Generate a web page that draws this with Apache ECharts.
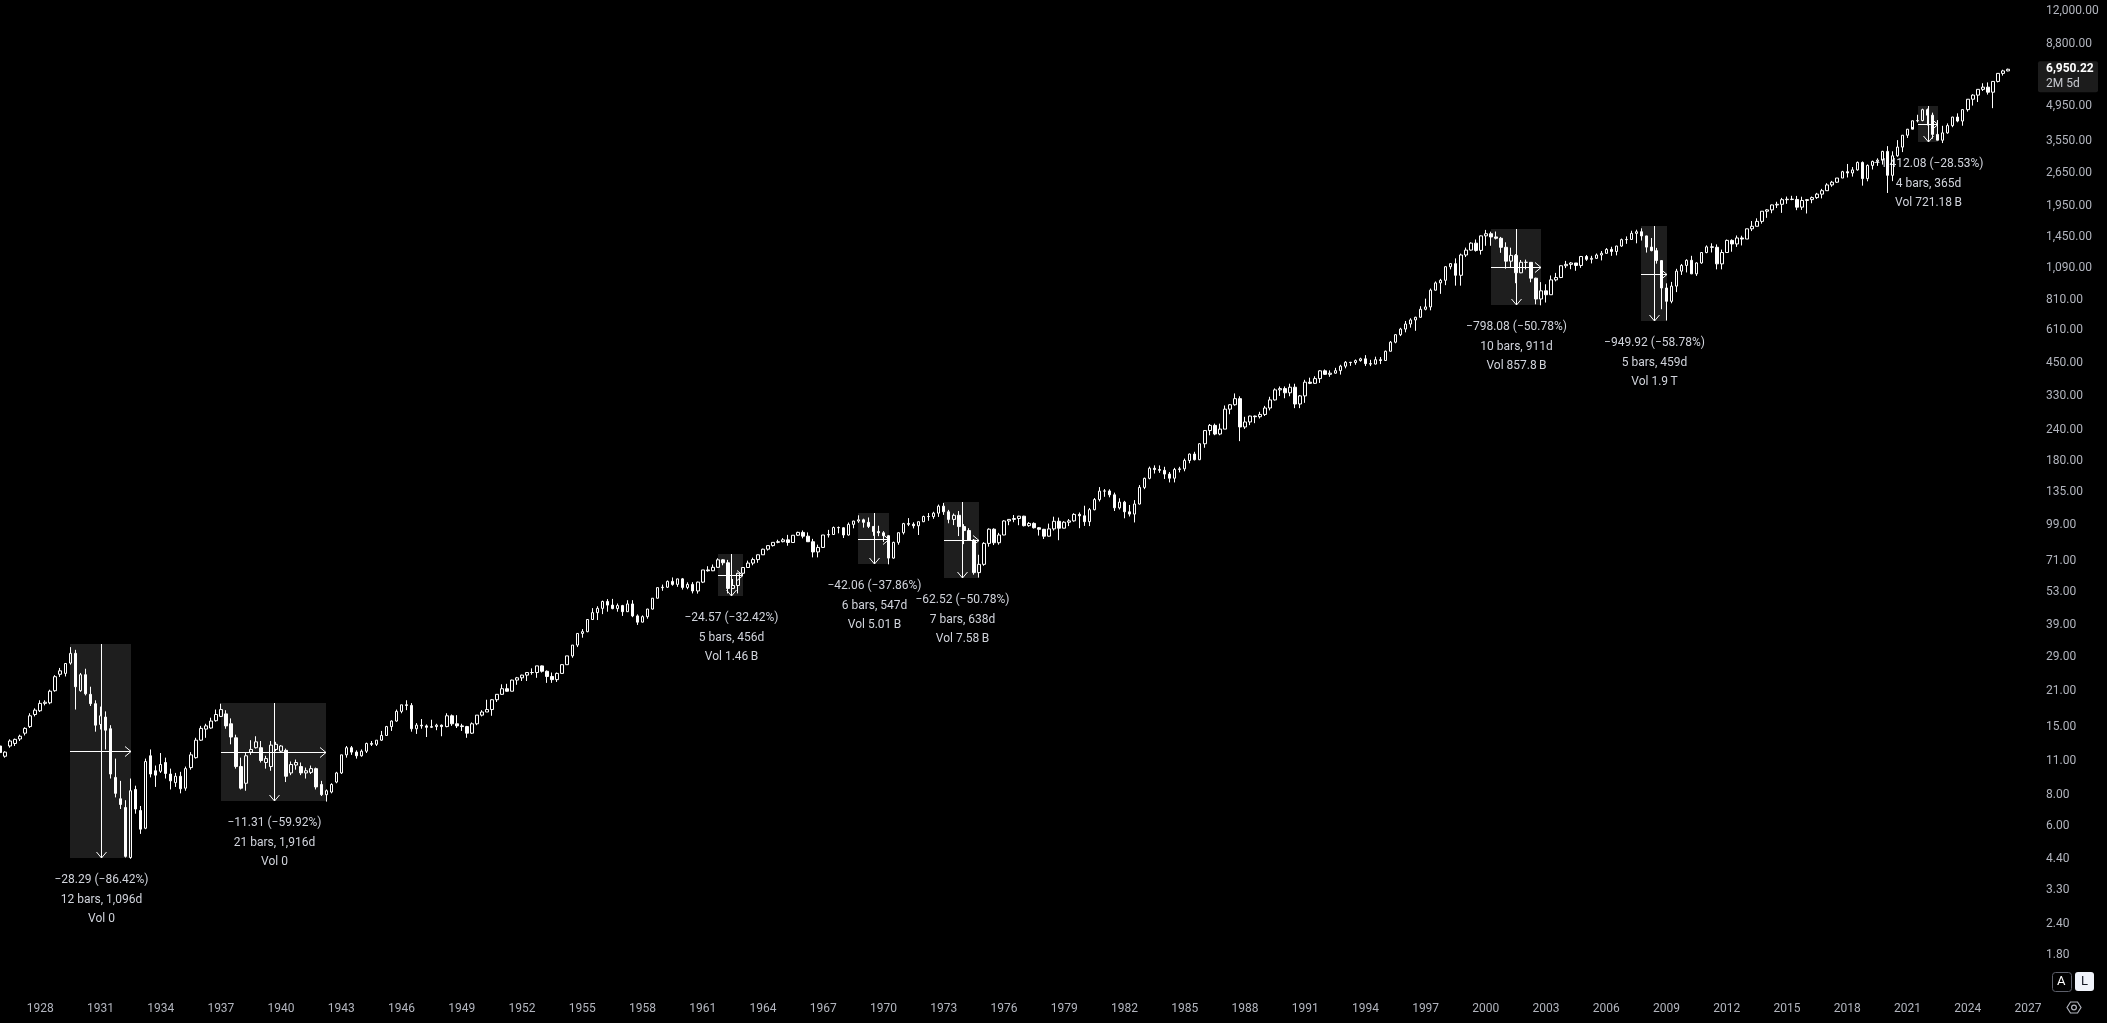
<!DOCTYPE html>
<html>
<head>
<meta charset="utf-8">
<script src="https://cdn.jsdelivr.net/npm/echarts@6/dist/echarts.min.js"></script>
<style>
html,body{margin:0;padding:0;background:#000;}
#chart{width:2107px;height:1023px;}
</style>
</head>
<body>
<div id="chart"></div>
<script>
// ---- quarterly bars, rows are [open, high, low, close] ----
const firstYear = 1926;
const q1926_1945 = [
  [12.6,12.8,11.6,11.85],[11.45,12.0,11.3,11.9],[12.6,13.4,12.4,13.2],[12.9,13.5,12.6,13.4],
  [13.45,14.0,13.2,13.8],[14.2,15.0,13.9,14.85],[15.1,17.1,14.9,16.7],[16.9,17.9,16.6,17.6],
  [17.5,19.3,17.3,18.75],[18.75,19.3,18.4,18.95],[18.85,21.3,18.6,21.0],[21.1,24.4,20.9,24.05],
  [24.6,26.1,24.0,25.4],[24.8,27.3,24.1,27.2],[27.3,31.7,26.9,29.9],[29.9,30.9,17.7,21.9],
  [21.1,24.9,20.9,24.5],[24.5,25.9,20.2,20.5],[20.4,21.9,18.3,18.7],[18.7,19.3,14.4,15.3],
  [15.4,18.2,14.7,16.7],[16.5,17.4,12.2,14.6],[14.8,15.3,9.3,9.7],[9.4,11.2,7.8,8.1],
  [7.7,9.1,7.0,7.3],[7.1,7.6,4.45,4.5],[4.45,9.3,4.4,8.3],[8.4,8.7,6.7,7.0],
  [6.9,7.2,5.55,5.8],[5.85,11.2,5.8,10.9],[11.5,12.2,9.4,9.7],[10.0,10.5,8.6,9.6],
  [9.95,11.8,9.8,10.6],[10.8,11.3,9.3,9.75],[9.7,10.2,8.4,9.1],[8.95,9.8,8.6,9.5],
  [9.5,9.9,8.1,8.45],[8.5,10.4,8.3,10.2],[10.3,11.9,10.1,11.6],[11.3,13.6,11.2,13.3],
  [13.3,15.2,13.2,14.85],[14.75,15.5,13.6,15.2],[14.9,16.4,14.8,15.9],[15.95,17.7,15.8,16.9],
  [16.6,18.7,16.5,17.7],[17.0,17.6,14.8,15.2],[15.5,16.3,12.8,13.7],[13.6,14.0,10.2,10.4],
  [10.4,11.3,8.4,8.5],[8.9,11.8,8.3,11.5],[11.9,13.3,11.6,12.2],[12.4,13.8,12.3,13.1],
  [12.4,13.2,10.8,11.0],[10.8,11.5,10.2,11.2],[10.4,13.2,10.0,12.7],[12.2,13.1,12.0,12.8],
  [12.0,12.7,11.8,12.6],[12.1,12.3,9.0,9.5],[9.8,10.9,9.6,10.6],[10.55,11.1,10.1,10.8],
  [10.4,10.8,9.6,9.8],[9.8,10.3,9.3,10.0],[9.85,10.5,9.7,10.2],[10.2,10.3,8.4,8.6],
  [8.8,9.1,7.9,8.0],[8.0,8.4,7.5,8.3],[8.2,8.9,8.1,8.8],[9.0,9.9,8.9,9.8],
  [9.8,11.6,9.7,11.6],[11.6,12.6,11.3,12.4],[12.4,12.6,11.6,11.9],[11.9,12.1,11.2,11.5],
  [11.5,12.2,11.4,12.0],[12.0,13.0,11.8,12.9],[12.9,13.2,12.6,12.8],[12.8,13.3,12.6,13.3],
  [13.3,14.5,13.2,13.9],[13.9,15.2,13.9,15.1],[15.1,16.0,14.5,15.9],[15.9,17.7,15.8,17.4]
];
const q1946_1965 = [
  [17.4,18.5,17.1,18.5],[18.5,19.3,17.6,18.4],[18.4,18.8,14.4,14.8],[14.8,15.6,14.1,15.3],
  [15.3,16.2,14.8,15.2],[15.2,15.4,13.7,15.0],[15.0,16.1,14.9,15.1],[15.1,15.5,14.6,15.3],
  [15.3,15.4,13.8,15.1],[15.1,17.1,15.0,16.7],[16.7,16.9,15.2,15.5],[15.5,16.8,14.9,15.2],
  [15.2,15.5,14.5,15.1],[15.1,15.2,13.6,14.2],[14.2,15.7,14.1,15.5],[15.5,16.8,15.3,16.8],
  [16.8,17.6,16.6,17.3],[17.3,19.4,17.3,17.7],[17.7,19.5,16.7,19.4],[19.4,20.4,19.0,20.4],
  [20.4,22.4,20.3,21.5],[21.5,22.5,20.9,21.0],[21.0,23.4,21.0,23.3],[23.3,24.0,22.3,23.8],
  [23.8,24.5,23.1,24.4],[24.4,25.0,23.1,25.0],[25.0,26.0,24.5,25.0],[25.0,26.6,23.8,26.6],
  [26.6,26.7,25.0,25.3],[25.3,25.5,22.7,24.1],[24.1,25.0,22.7,23.4],[23.4,25.0,22.9,24.8],
  [24.8,27.0,24.8,26.9],[26.9,29.2,26.9,29.2],[29.2,32.3,28.7,32.3],[32.3,36.0,31.7,36.0],
  [36.0,37.5,34.6,36.6],[36.6,41.0,36.4,41.0],[41.0,45.6,40.8,43.7],[43.7,46.4,40.8,45.5],
  [45.5,48.9,43.1,48.5],[48.5,49.6,44.1,46.9],[46.9,49.7,45.1,45.4],[45.4,47.6,44.1,46.7],
  [46.7,47.0,42.4,44.1],[44.1,49.1,44.0,47.4],[47.4,49.1,41.9,42.4],[42.4,43.0,38.98,39.99],
  [40.0,42.6,39.9,42.1],[42.1,45.3,41.3,45.2],[45.2,50.0,45.0,50.0],[50.0,55.2,49.9,55.2],
  [55.2,56.8,53.6,55.4],[55.4,59.0,55.0,58.5],[58.5,60.7,56.2,56.9],[56.9,60.0,55.6,59.9],
  [59.9,60.4,54.2,55.3],[55.3,58.0,54.4,56.9],[56.9,58.1,52.3,53.5],[53.5,58.4,52.2,58.1],
  [58.1,65.1,57.6,65.1],[65.1,67.4,64.1,64.6],[64.6,68.5,64.4,66.7],[66.7,72.6,66.5,71.55],
  [71.55,72.0,68.0,69.6],[69.6,71.5,52.3,54.8],[54.8,59.8,54.5,56.3],[56.3,63.4,52.3,63.1],
  [63.1,66.6,62.0,66.6],[66.6,71.0,66.5,69.4],[69.4,73.0,68.0,71.7],[71.7,75.2,69.6,75.0],
  [75.0,79.4,74.9,78.98],[79.0,81.7,78.0,81.7],[81.7,84.2,81.0,84.2],[84.2,86.3,83.5,84.75],
  [84.75,87.6,84.2,86.2],[86.2,90.3,81.6,84.1],[84.1,90.0,84.0,89.96],[90.0,93.0,89.4,92.4]
];
const q1966_1985 = [
  [92.4,94.1,87.4,89.2],[89.2,92.4,84.7,84.7],[84.7,87.0,73.2,77.0],[77.0,82.4,73.2,80.3],
  [80.3,90.2,80.0,90.2],[90.2,94.6,88.1,90.6],[90.6,97.6,90.6,96.7],[96.7,97.6,91.6,96.5],
  [96.5,97.0,87.7,90.2],[90.2,101.3,89.7,99.6],[99.6,103.0,96.0,102.7],[102.7,108.4,101.0,103.9],
  [103.9,105.0,96.6,101.5],[101.5,106.2,96.2,97.7],[97.7,98.0,89.5,93.1],[93.1,98.3,89.2,92.1],
  [92.1,93.5,84.6,89.6],[89.6,90.0,68.6,72.7],[72.7,84.7,72.3,84.2],[84.2,92.2,82.4,92.15],
  [92.15,101.0,90.6,100.3],[100.3,105.6,98.0,99.7],[99.7,101.5,95.9,98.3],[98.3,102.1,90.2,102.1],
  [102.1,108.0,101.7,107.2],[107.2,110.7,103.0,107.1],[107.1,112.0,104.9,110.6],[110.6,119.8,106.8,118.05],
  [118.05,121.7,108.8,112.0],[112.0,114.0,100.6,104.3],[104.3,110.2,98.9,108.4],[108.4,112.8,89.3,97.55],
  [97.55,99.8,82.8,94.0],[94.0,96.1,85.8,86.0],[86.0,86.9,62.3,63.5],[63.5,75.0,60.6,68.6],
  [68.6,84.4,67.7,83.4],[83.4,96.0,80.9,95.2],[95.2,96.0,82.1,83.9],[83.9,92.0,82.4,90.2],
  [90.2,103.5,90.0,102.8],[102.8,104.3,98.8,104.3],[104.3,108.7,101.6,105.2],[105.2,107.8,98.8,107.5],
  [107.5,107.9,97.7,98.4],[98.4,101.7,97.4,100.5],[100.5,101.5,95.8,96.5],[96.5,97.1,89.7,95.1],
  [95.1,95.5,86.9,89.2],[89.2,100.3,88.9,95.5],[95.5,107.0,94.0,102.5],[102.5,106.1,85.9,96.1],
  [96.1,102.6,96.0,101.6],[101.6,104.6,98.0,102.9],[102.9,110.5,102.1,109.3],[109.3,111.3,96.1,107.9],
  [107.9,118.5,98.2,102.1],[102.1,116.0,98.0,114.2],[114.2,127.3,113.5,125.5],[125.5,141.0,123.3,135.8],
  [135.8,138.4,128.8,136.0],[136.0,138.1,128.2,131.2],[131.2,133.9,112.8,116.2],[116.2,127.0,114.4,122.55],
  [122.55,124.0,105.4,112.0],[112.0,119.3,107.2,109.6],[109.6,124.9,101.4,120.4],[120.4,143.7,119.9,140.6],
  [140.6,154.0,138.3,153.0],[153.0,170.7,151.6,168.1],[168.1,172.7,160.0,166.1],[166.1,172.6,161.1,164.9],
  [164.9,170.4,152.1,159.2],[159.2,162.3,147.3,153.2],[153.2,168.7,147.3,166.1],[166.1,170.4,161.7,167.2],
  [167.2,183.9,163.4,180.7],[180.7,192.9,176.1,191.9],[191.9,196.0,180.7,182.1],[182.1,212.0,181.3,211.3]
];
const q1986_2005 = [
  [211.3,240.0,203.5,238.9],[238.9,254.0,228.6,250.8],[250.8,254.9,228.8,231.3],[231.3,254.9,228.7,242.2],
  [242.2,301.9,242.2,291.7],[291.7,306.0,278.2,304.0],[304.0,337.9,301.3,321.8],[321.8,328.9,216.5,247.1],
  [247.1,271.6,242.6,258.9],[258.9,274.5,251.3,273.5],[273.5,274.7,256.0,271.9],[271.9,284.6,267.4,277.7],
  [277.7,300.8,273.8,294.9],[294.9,327.4,288.4,318.0],[318.0,354.1,316.0,349.2],[349.2,360.4,330.0,353.4],
  [353.4,360.6,323.0,339.9],[339.9,370.0,329.1,358.0],[358.0,369.8,294.5,306.1],[306.1,332.7,294.5,330.2],
  [330.2,383.6,309.4,375.2],[375.2,391.3,368.6,371.2],[371.2,396.6,368.9,387.9],[387.9,419.3,372.6,417.1],
  [417.1,422.4,401.3,403.7],[403.7,419.0,394.5,408.1],[408.1,428.9,406.2,417.8],[417.8,441.3,402.7,435.7],
  [435.7,456.9,426.9,451.7],[451.7,453.1,436.9,450.5],[450.5,463.6,441.4,458.9],[458.9,471.3,454.4,466.5],
  [466.5,482.9,436.2,445.8],[445.8,462.3,435.9,444.3],[444.3,476.0,443.0,462.7],[462.7,474.3,444.2,459.3],
  [459.3,503.9,457.2,500.7],[500.7,551.1,500.7,544.8],[544.8,586.8,539.2,584.4],[584.4,622.9,576.6,615.9],
  [615.9,664.0,597.3,645.5],[645.5,681.1,624.0,670.6],[670.6,690.9,605.9,687.3],[687.3,762.1,684.9,740.7],
  [740.7,817.7,733.5,757.1],[757.1,898.7,733.5,885.1],[885.1,960.3,881.9,947.3],[947.3,983.8,855.3,970.4],
  [970.4,1105.6,927.7,1101.8],[1101.8,1138.4,1074.7,1133.8],[1133.8,1190.6,923.3,1017.0],[1017.0,1244.9,923.3,1229.2],
  [1229.2,1316.6,1205.5,1286.4],[1286.4,1383.3,1281.0,1372.7],[1372.7,1420.3,1268.4,1282.7],[1282.7,1473.1,1233.7,1469.25],
  [1469.25,1553.1,1339.4,1498.6],[1498.6,1527.2,1339.4,1454.6],[1454.6,1530.1,1420.9,1436.5],[1436.5,1454.8,1254.1,1320.3],
  [1320.3,1383.4,1081.2,1160.3],[1160.3,1316.0,1092.0,1224.4],[1224.4,1239.8,944.75,1040.9],[1040.9,1172.8,1037.5,1148.1],
  [1148.1,1177.0,1074.4,1147.4],[1147.4,1147.8,952.9,989.8],[989.8,994.5,775.7,815.3],[815.3,954.3,768.6,879.8],
  [879.8,935.1,788.9,848.2],[848.2,1015.3,847.9,974.5],[974.5,1040.0,960.8,996.0],[996.0,1112.6,990.4,1111.9],
  [1111.9,1163.2,1087.2,1126.2],[1126.2,1150.6,1076.3,1140.8],[1140.8,1140.8,1060.7,1114.6],[1114.6,1217.9,1090.2,1211.9],
  [1211.9,1229.1,1163.7,1180.6],[1180.6,1219.6,1136.2,1191.3],[1191.3,1245.9,1183.6,1228.8],[1228.8,1275.8,1168.2,1248.3]
];
const q2006_2026 = [
  [1248.3,1310.9,1245.7,1294.8],[1294.8,1326.7,1219.3,1270.2],[1270.2,1340.3,1224.5,1335.9],[1335.9,1431.8,1327.1,1418.3],
  [1418.3,1461.6,1364.0,1420.9],[1420.9,1540.6,1416.4,1503.4],[1503.4,1555.9,1370.6,1526.8],[1526.8,1576.1,1406.1,1468.4],
  [1468.4,1471.8,1257.0,1322.7],[1322.7,1440.2,1272.0,1280.0],[1280.0,1313.2,1133.5,1166.4],[1166.4,1167.0,741.0,903.25],
  [903.25,943.9,666.8,797.9],[797.9,956.2,783.3,919.3],[919.3,1080.2,869.3,1057.1],[1057.1,1130.4,1020.2,1115.1],
  [1115.1,1180.7,1044.5,1169.4],[1169.4,1219.8,1028.3,1030.7],[1030.7,1148.7,1010.9,1141.2],[1141.2,1262.6,1131.9,1257.6],
  [1257.6,1344.1,1249.1,1325.8],[1325.8,1370.6,1258.1,1320.6],[1320.6,1356.5,1074.8,1131.4],[1131.4,1292.7,1074.8,1257.6],
  [1257.6,1419.2,1258.9,1408.5],[1408.5,1422.4,1267.0,1362.2],[1362.2,1474.5,1325.4,1440.7],[1440.7,1471.0,1343.4,1426.2],
  [1426.2,1570.3,1426.2,1569.2],[1569.2,1687.2,1536.0,1606.3],[1606.3,1729.9,1604.6,1681.6],[1681.6,1849.4,1646.5,1848.4],
  [1848.4,1884.0,1737.9,1872.3],[1872.3,1968.2,1814.4,1960.2],[1960.2,2019.3,1904.8,1972.3],[1972.3,2093.6,1820.7,2058.9],
  [2058.9,2119.6,1981.0,2067.9],[2067.9,2134.7,2048.4,2063.1],[2063.1,2132.8,1867.0,1920.0],[1920.0,2116.5,1871.9,2043.9],
  [2043.9,2072.2,1810.1,2059.7],[2059.7,2120.6,1991.7,2098.9],[2098.9,2193.8,2074.0,2168.3],[2168.3,2277.5,2083.8,2238.8],
  [2238.8,2401.0,2245.1,2362.7],[2362.7,2453.8,2322.3,2423.4],[2423.4,2519.4,2405.7,2519.4],[2519.4,2695.0,2520.4,2673.6],
  [2673.6,2872.9,2532.7,2640.9],[2640.9,2791.5,2553.8,2718.4],[2718.4,2940.9,2699.0,2914.0],[2914.0,2940.9,2346.6,2506.85],
  [2506.85,2860.3,2444.0,2834.4],[2834.4,2964.2,2728.8,2941.8],[2941.8,3028.0,2822.1,2976.7],[2976.7,3247.9,2855.9,3230.8],
  [3230.8,3393.5,2191.9,2584.6],[2584.6,3233.1,2447.5,3100.3],[3100.3,3588.1,3073.2,3363.0],[3363.0,3760.2,3209.5,3756.1],
  [3756.1,3983.9,3662.7,3972.9],[3972.9,4302.4,4056.9,4297.5],[4297.5,4545.9,4233.1,4307.5],[4307.5,4808.9,4278.9,4766.2],
  [4766.2,4818.6,4114.7,4530.4],[4530.4,4637.3,3636.9,3785.4],[3785.4,4325.3,3584.1,3585.6],[3585.6,4101.0,3491.6,3839.5],
  [3839.5,4195.4,3808.9,4109.3],[4109.3,4458.5,4048.3,4450.4],[4450.4,4607.1,4238.6,4288.1],[4288.1,4793.3,4103.8,4769.8],
  [4769.8,5264.9,4682.1,5254.4],[5254.4,5505.5,4953.6,5460.5],[5460.5,5767.4,5119.3,5762.5],[5762.5,6100.0,5674.0,5881.6],
  [5881.6,6147.4,5488.7,5611.9],[5611.9,6215.1,4835.0,6205.0],[6205.0,6699.5,6147.4,6688.5],[6688.5,6920.0,6550.0,6845.5],
  [6845.5,6990.0,6820.0,6950.22]
];

// ---- axis ticks ----
const priceTicks = [12000, 8800, 4950, 3550, 2650, 1950, 1450, 1090, 810, 610, 450, 330, 240, 180, 135,
                    99, 71, 53, 39, 29, 21, 15, 11, 8, 6, 4.4, 3.3, 2.4, 1.8];
const yearTicks = [1928,1931,1934,1937,1940,1943,1946,1949,1952,1955,1958,1961,1964,1967,1970,1973,1976,
                   1979,1982,1985,1988,1991,1994,1997,2000,2003,2006,2009,2012,2015,2018,2021,2024,2027];
const lastYear = 2027; // axis runs to 2027 Q1

// ---- measurement annotations (bar indexes, prices, texts) ----
const annStartBar = [14, 44, 143, 171, 188, 297, 327, 382];
const annEndBar   = [26, 65, 148, 177, 195, 307, 332, 386];
const annFrom     = [32.735, 18.875, 75.79, 111.09, 123.12, 1571.6, 1616.1, 4949.4];
const annTo       = [4.445, 7.565, 51.22, 69.03, 60.60, 773.5, 666.2, 3537.3];
const annLine1 = ['\u221228.29 (\u221286.42%)','\u221211.31 (\u221259.92%)','\u221224.57 (\u221232.42%)','\u221242.06 (\u221237.86%)',
                  '\u221262.52 (\u221250.78%)','\u2212798.08 (\u221250.78%)','\u2212949.92 (\u221258.78%)','\u22121,412.08 (\u221228.53%)'];
const annLine2 = ['12 bars, 1,096d','21 bars, 1,916d','5 bars, 456d','6 bars, 547d','7 bars, 638d','10 bars, 911d','5 bars, 459d','4 bars, 365d'];
const annLine3 = ['Vol 0','Vol 0','Vol 1.46\u2009B','Vol 5.01\u2009B','Vol 7.58\u2009B','Vol 857.8\u2009B','Vol 1.9\u2009T','Vol 721.18\u2009B'];

const lastPrice = 6950.22;
const countdown = '2M 5d';

// ---- build ----
const bars = [].concat(q1926_1945, q1946_1965, q1966_1985, q1986_2005, q2006_2026);
const categories = [];
for (let y = firstYear; y <= lastYear; y++) {
  for (let q = 1; q <= 4; q++) {
    if (y === lastYear && q > 1) break;
    categories.push(y + '-Q' + q);
  }
}
const lg = v => Math.log10(v);
const candleData = bars.map(b => [lg(b[0]), lg(b[3]), lg(b[2]), lg(b[1])]);
const yearShow = new Set(yearTicks.map(y => y + '-Q1'));
const fmtPrice = v => Number(Math.pow(10, v).toFixed(2)).toLocaleString('en-US', {minimumFractionDigits: 2, maximumFractionDigits: 2});

const annData = annStartBar.map((s, k) => [s, annEndBar[k], lg(annFrom[k]), lg(annTo[k]), k]);

const FONT = 'Roboto, "Noto Sans", sans-serif';
const chart = echarts.init(document.getElementById('chart'), null, {renderer: 'canvas'});

function renderAnn(params, api) {
  const k = api.value(4);
  const a = api.coord([api.value(0), api.value(2)]);
  const b = api.coord([api.value(1), api.value(3)]);
  const x1 = Math.round(a[0]), x2 = Math.round(b[0]);
  const y1 = Math.round(a[1]), y2 = Math.round(b[1]);
  const xm = Math.round((x1 + x2) / 2) + 0.5;
  const ym = Math.round((y1 + y2) / 2) + 0.5;
  const lineStyle = {stroke: '#ffffff', lineWidth: 1, fill: null};
  const txt = (t, dy) => ({
    type: 'text', x: xm, y: y2 + dy,
    style: {text: t, fill: '#d1d4dc', font: '12px ' + FONT, align: 'center', verticalAlign: 'middle'}
  });
  return {
    type: 'group',
    children: [
      {type: 'rect', shape: {x: x1, y: y1, width: x2 - x1, height: y2 - y1}, style: {fill: '#1e1e1e'}},
      {type: 'line', shape: {x1: xm, y1: y1, x2: xm, y2: y2}, style: lineStyle},
      {type: 'polyline', shape: {points: [[xm - 5, y2 - 6], [xm, y2], [xm + 5, y2 - 6]]}, style: lineStyle},
      {type: 'line', shape: {x1: x1, y1: ym, x2: x2, y2: ym}, style: lineStyle},
      {type: 'polyline', shape: {points: [[x2 - 6, ym - 5], [x2, ym], [x2 - 6, ym + 5]]}, style: lineStyle},
      txt(annLine1[k], 22),
      txt(annLine2[k], 42),
      txt(annLine3[k], 61)
    ]
  };
}

chart.setOption({
  backgroundColor: '#000000',
  animation: false,
  grid: {left: 0, right: 79, top: 0, bottom: 33, containLabel: false},
  xAxis: {
    type: 'category',
    data: categories,
    boundaryGap: false,
    axisLine: {show: false},
    axisTick: {show: false},
    splitLine: {show: false},
    axisLabel: {
      interval: (idx, val) => yearShow.has(val),
      formatter: val => val.slice(0, 4),
      color: '#b2b5be', fontSize: 12, fontFamily: FONT, margin: 13
    }
  },
  yAxis: {
    type: 'value',
    position: 'right',
    min: lg(1.2936),
    max: lg(13262),
    scale: true,
    axisLine: {show: false},
    axisTick: {show: false},
    splitLine: {show: false},
    axisLabel: {
      customValues: priceTicks.map(lg),
      formatter: v => fmtPrice(v),
      color: '#b2b5be', fontSize: 12, fontFamily: FONT, margin: 18, align: 'left'
    }
  },
  series: [
    {
      type: 'custom',
      name: 'measure',
      z: 1,
      silent: true,
      clip: false,
      encode: {x: [0, 1], y: [2, 3]},
      data: annData,
      renderItem: renderAnn
    },
    {
      type: 'candlestick',
      name: 'SPX',
      z: 3,
      data: candleData,
      barWidth: 3,
      itemStyle: {
        color: 'rgba(0,0,0,0)',
        color0: '#ffffff',
        borderColor: '#ffffff',
        borderColor0: '#ffffff',
        borderWidth: 1
      }
    }
  ]
});

const yLast = chart.convertToPixel({yAxisIndex: 0}, lg(lastPrice));
chart.setOption({
  graphic: [
    {type: 'rect', left: 2038, top: yLast - 8, shape: {width: 60, height: 31, r: 2}, style: {fill: '#1c1c1c'}, z: 100},
    {type: 'text', left: 2046, top: yLast - 6, style: {text: fmtPrice(lg(lastPrice)), fill: '#ffffff', font: 'bold 12px ' + FONT}, z: 101},
    {type: 'text', left: 2046, top: yLast + 9, style: {text: countdown, fill: '#c8cad0', font: '12px ' + FONT}, z: 101},
    {type: 'rect', left: 2052, top: 972, shape: {width: 19, height: 19, r: 3}, style: {fill: '#000', stroke: '#5d606b', lineWidth: 1}, z: 100},
    {type: 'text', left: 2057, top: 975, style: {text: 'A', fill: '#ffffff', font: '13px ' + FONT}, z: 101},
    {type: 'rect', left: 2075, top: 972, shape: {width: 19, height: 19, r: 3}, style: {fill: '#f0f3fa'}, z: 100},
    {type: 'text', left: 2081, top: 975, style: {text: 'L', fill: '#131722', font: '13px ' + FONT}, z: 101},
    {type: 'polygon', shape: {points: [[2067, 1007.5], [2070.5, 1002], [2077.5, 1002], [2081, 1007.5], [2077.5, 1013], [2070.5, 1013]]},
      style: {fill: null, stroke: '#b2b5be', lineWidth: 1.2}, z: 100},
    {type: 'circle', shape: {cx: 2074, cy: 1007.5, r: 2.4}, style: {fill: null, stroke: '#b2b5be', lineWidth: 1.2}, z: 100}
  ]
});
</script>
</body>
</html>
